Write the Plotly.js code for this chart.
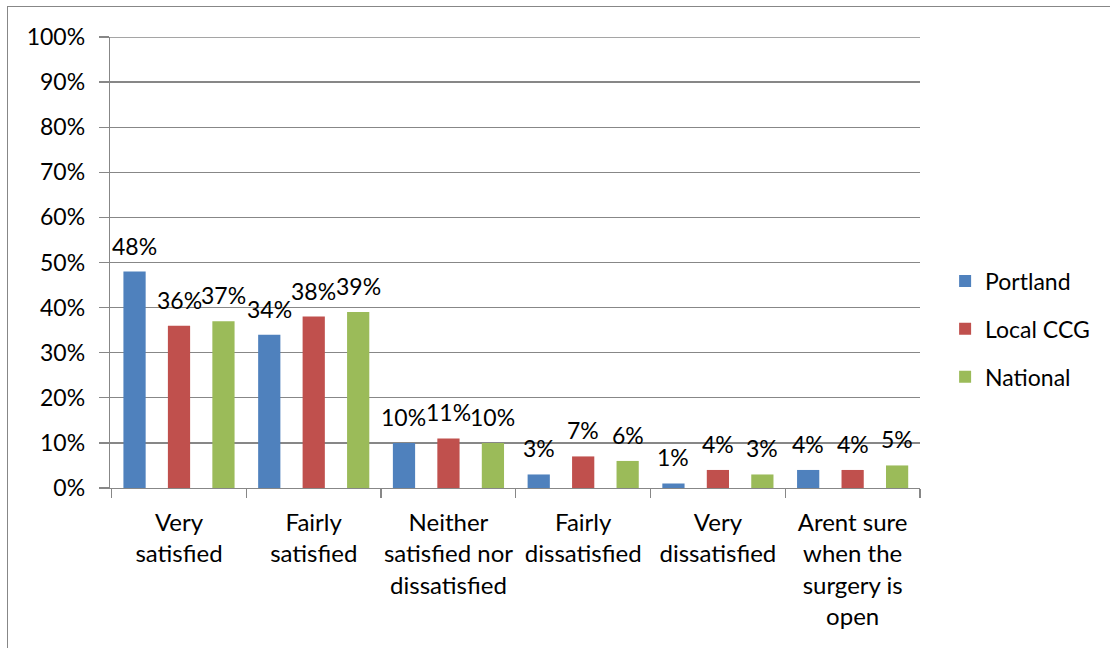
<!DOCTYPE html>
<html>
<head>
<meta charset="utf-8">
<script src="https://cdn.plot.ly/plotly-3.0.1.min.js"></script>
<style>
html,body{margin:0;padding:0;background:#fff;}
#chart{position:absolute;left:0;top:0;width:1110px;height:648px;}
#frame{position:absolute;left:7px;top:6px;width:1200px;height:700px;border-left:1px solid #878787;border-top:1px solid #878787;pointer-events:none;}
</style>
</head>
<body>
<div id="chart"></div>
<div id="frame"></div>
<script>
const categories = ["Very<br>satisfied", "Fairly<br>satisfied", "Neither<br>satisfied nor<br>dissatisfied", "Fairly<br>dissatisfied", "Very<br>dissatisfied", "Arent sure<br>when the<br>surgery is<br>open"];
const seriesNames = ["Portland", "Local CCG", "National"];
const portland = [48, 34, 10, 3, 1, 4];
const localCCG = [36, 38, 11, 7, 4, 4];
const national = [37, 39, 10, 6, 3, 5];
const yTicks = [0, 10, 20, 30, 40, 50, 60, 70, 80, 90, 100];

const colors = ["#4F81BD", "#C0504D", "#9BBB59"];
const FONT = "Lato, 'Open Sans', sans-serif";
const allSeries = [portland, localCCG, national];

const traces = allSeries.map((vals, i) => ({
  type: "bar",
  name: seriesNames[i],
  x: categories,
  y: vals,
  marker: {color: colors[i]},
  legendgroup: "g" + i,
  hoverinfo: "none"
}));

const annotations = [];
allSeries.forEach((vals, i) => {
  vals.forEach((v, j) => {
    annotations.push({
      x: categories[j], y: v, xref: "x", yref: "y",
      text: v + "%", showarrow: false,
      xshift: (i - 1) * 44.5, yshift: 26, yanchor: "middle",
      font: {family: FONT, size: 23, color: "#000"}
    });
  });
});

const layout = {
  width: 1110, height: 648,
  margin: {l: 110, r: 190, t: 37, b: 160},
  paper_bgcolor: "#fff", plot_bgcolor: "#fff",
  barmode: "group", bargap: 0.01, bargroupgap: 0.5,
  font: {family: FONT, size: 23, color: "#000"},
  showlegend: true,
  legend: {x: 1.031, y: 0.3525, xanchor: "left", yanchor: "middle",
           font: {family: FONT, size: 23, color: "#000"},
           tracegroupgap: 15, traceorder: "grouped", bgcolor: "rgba(0,0,0,0)"},
  xaxis: {
    type: "category", tickson: "boundaries", ticks: "outside", ticklen: 9,
    tickcolor: "#878787", tickwidth: 1.3, showline: true, linecolor: "#878787", linewidth: 1.3,
    showgrid: false, tickfont: {family: FONT, size: 24, color: "#000"}, fixedrange: true,
    tickangle: 0, ticklabelstandoff: 13
  },
  yaxis: {
    range: [0, 100], tickvals: yTicks, ticktext: yTicks.map(v => v + "%"),
    ticks: "outside", ticklen: 10, tickcolor: "#878787", tickwidth: 1.3,
    showline: true, linecolor: "#878787", linewidth: 1.3,
    showgrid: true, gridcolor: "#878787", gridwidth: 1.3, zeroline: false,
    tickfont: {family: FONT, size: 23, color: "#000"}, fixedrange: true,
    ticklabelstandoff: 9
  },
  shapes: [{type: "line", xref: "paper", yref: "y", x0: 0, x1: 1, y0: 100, y1: 100,
            line: {color: "#878787", width: 1.3}}],
  annotations: annotations
};

Plotly.newPlot("chart", traces, layout, {displayModeBar: false, staticPlot: true});
</script>
</body>
</html>
